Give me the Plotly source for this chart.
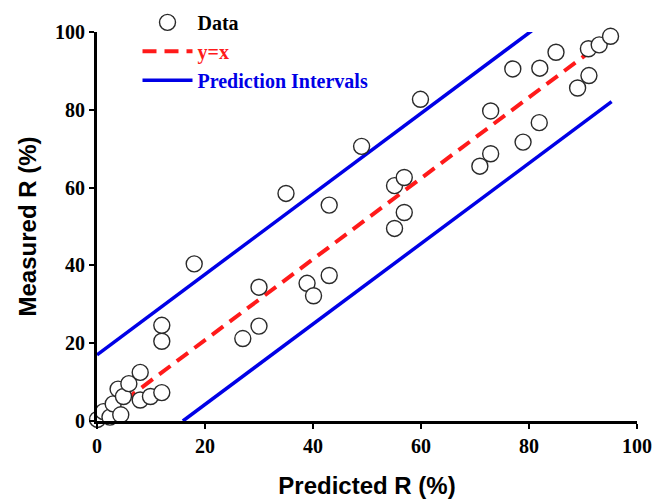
import plotly.graph_objects as go

# Data
pred = [0.1, 1.2, 2.4, 3.0, 4.4, 3.9, 4.9, 5.9, 8.0, 8.0, 9.9, 12.0, 12.0, 12.0,
        18.0, 27.0, 30.0, 30.0, 35.0, 38.9, 40.1, 43.0, 43.0, 49.0,
        55.1, 56.9, 55.1, 56.9, 59.9, 70.9, 72.9, 72.9,
        77.0, 78.9, 81.9, 82.0, 85.0, 89.0, 91.1, 91.0, 93.0, 95.1]
meas = [0.4, 2.4, 1.0, 4.4, 1.6, 8.2, 6.3, 9.6, 12.5, 5.4, 6.3, 7.3, 20.5, 24.6,
        40.4, 21.2, 24.4, 34.4, 58.5, 35.4, 32.2, 37.4, 55.5, 70.6,
        60.5, 62.6, 49.5, 53.6, 82.7, 65.5, 68.7, 79.7,
        90.5, 71.7, 76.7, 90.7, 94.8, 85.6, 88.8, 95.7, 96.7, 98.9]

line_x = [5.0, 92.5]
line_y = [5.2, 96.2]
upper_x = [0.0, 80.5]
upper_y = [17.0, 100.3]
lower_x = [15.9, 95.3]
lower_y = [0.0, 82.1]

x_ticks = [0, 20, 40, 60, 80, 100]
y_ticks = [0, 20, 40, 60, 80, 100]

x_title = "Predicted R (%)"
y_title = "Measured R (%)"

BLUE = "#0000E6"
RED = "#FF1A1A"

fig = go.Figure()
fig.add_trace(go.Scatter(x=upper_x, y=upper_y, mode="lines",
                         line=dict(color=BLUE, width=3.5),
                         name="<span style='color:#0000E6'>Prediction Intervals</span>",
                         legendgroup="pi", legendrank=3, cliponaxis=False))
fig.add_trace(go.Scatter(x=lower_x, y=lower_y, mode="lines",
                         line=dict(color=BLUE, width=3.5),
                         legendgroup="pi", showlegend=False, cliponaxis=False))
fig.add_trace(go.Scatter(x=line_x, y=line_y, mode="lines",
                         line=dict(color=RED, width=4, dash="14px,8px"),
                         name="<span style='color:#FF1A1A'>y=x</span>",
                         legendrank=2, cliponaxis=False))
fig.add_trace(go.Scatter(x=pred, y=meas, mode="markers",
                         marker=dict(symbol="circle", size=16, color="white",
                                     line=dict(color="#2a2a2a", width=1.4)),
                         name="Data", legendrank=1, cliponaxis=False))

tickfont = dict(family="Liberation Serif, Times New Roman, serif", size=20, color="black")
titlefont = dict(family="Liberation Sans, Arial, sans-serif", size=24, color="black")

fig.update_layout(
    width=655, height=500,
    margin=dict(l=97, r=18, t=32, b=79, autoexpand=False),
    paper_bgcolor="white", plot_bgcolor="white",
    showlegend=True,
    legend=dict(x=0.075, y=1.075, xanchor="left", yanchor="top", itemwidth=50,
                bgcolor="rgba(0,0,0,0)", tracegroupgap=0,
                font=dict(family="Liberation Serif, Times New Roman, serif",
                          size=20, color="black", weight="bold")),
    xaxis=dict(range=[0, 100], tickvals=x_ticks,
               ticktext=[f"<b>{v}</b>" for v in x_ticks],
               showgrid=False, zeroline=False, showline=True,
               linecolor="black", linewidth=3, ticks="outside",
               ticklen=5, tickwidth=1.5, tickcolor="black",
               tickfont=tickfont,
               title=dict(text=f"<b>{x_title}</b>", font=titlefont, standoff=22)),
    yaxis=dict(range=[0, 100], tickvals=y_ticks,
               ticktext=[f"<b>{v}</b>" for v in y_ticks],
               showgrid=False, zeroline=False, showline=True,
               linecolor="black", linewidth=3, ticks="outside",
               ticklen=5, tickwidth=1.5, tickcolor="black",
               tickfont=tickfont),
    annotations=[dict(text=f"<b>{y_title}</b>", xref="paper", yref="paper",
                      x=0, y=0.5, xanchor="center", yanchor="middle",
                      xshift=-70, textangle=-90, showarrow=False, font=titlefont)],
)

fig.write_html("out.html", config={"displayModeBar": False},
               post_script="document.body.style.margin='0';")
